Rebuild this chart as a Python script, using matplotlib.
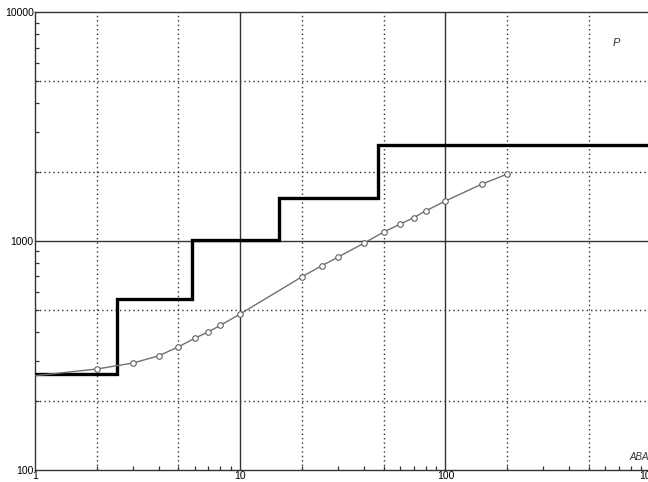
import numpy as np
import matplotlib
matplotlib.use("Agg")
import matplotlib.pyplot as plt
from matplotlib.ticker import LogLocator, NullFormatter, FixedLocator, FixedFormatter

# step curve (thick black)
step_x = [1, 2.5, 5.8, 15.5, 47, 1000]
step_y = [262, 558, 1010, 1540, 2625]

# measured curve (grey, open circles)
curve_x = [1, 2, 3, 4, 5, 6, 7, 8, 10, 20, 25, 30, 40, 50, 60, 70, 80, 100, 150, 200]
curve_y = [258, 276, 293, 315, 345, 376, 401, 428, 480, 698, 780, 851, 977, 1095,
           1183, 1264, 1352, 1495, 1770, 1960]

x_ticks = [1, 10, 100, 1000]
x_labels = ["1", "10", "100", "1000"]
y_ticks = [100, 1000, 10000]
y_labels = ["100", "1000", "10000"]

plt.rcParams['font.family'] = ['Liberation Sans', 'DejaVu Sans']

fig = plt.figure(figsize=(6.48, 4.82), dpi=100)
ax = fig.add_axes([0.054, 0.025, 0.95, 0.95])
ax.set_xscale("log")
ax.set_yscale("log")
ax.set_xlim(1, 1000)
ax.set_ylim(100, 10000)

# grid: solid at decades, dotted at 2 and 5
dot = (0, (1, 2.2))
for d in [1, 10, 100]:
    for s in [2, 5]:
        ax.axvline(d * s, color="#333333", lw=1.0, ls=dot, zorder=1)
for d in [100, 1000]:
    for s in [2, 5]:
        ax.axhline(d * s, color="#333333", lw=1.0, ls=dot, zorder=1)
for v in [10, 100]:
    ax.axvline(v, color="#333333", lw=1.0, zorder=1)
ax.axhline(1000, color="#333333", lw=1.0, zorder=1)

# step line
sx = np.repeat(step_x, 2)[1:-1]
sy = np.repeat(step_y, 2)
ax.plot(sx, sy, color="black", lw=2.4, solid_joinstyle="miter", zorder=3)

# grey curve
ax.plot(curve_x, curve_y, color="#707070", lw=1.0, zorder=4)
ax.plot(curve_x[1:], curve_y[1:], ls="none", marker="o", ms=4, mfc="white",
        mec="#606060", mew=0.8, zorder=5)

ax.xaxis.set_major_locator(FixedLocator(x_ticks))
ax.xaxis.set_major_formatter(FixedFormatter(x_labels))
ax.yaxis.set_major_locator(FixedLocator(y_ticks))
ax.yaxis.set_major_formatter(FixedFormatter(y_labels))
ax.xaxis.set_minor_locator(LogLocator(base=10, subs=np.arange(2, 10)))
ax.yaxis.set_minor_locator(LogLocator(base=10, subs=np.arange(2, 10)))
ax.xaxis.set_minor_formatter(NullFormatter())
ax.yaxis.set_minor_formatter(NullFormatter())
ax.tick_params(which="major", direction="in", length=0, labelsize=7.5, pad=1)
ax.tick_params(which="minor", direction="in", length=3, width=0.9, color="#333333")

for sp in ax.spines.values():
    sp.set_color("#333333")
    sp.set_linewidth(1.0)

fig.text(0.946, 0.905, "P", fontsize=8, style="italic", color="#333333")
fig.text(0.972, 0.045, "ABA", fontsize=7, style="italic", color="#333333")

fig.savefig("out.png", dpi=100)
